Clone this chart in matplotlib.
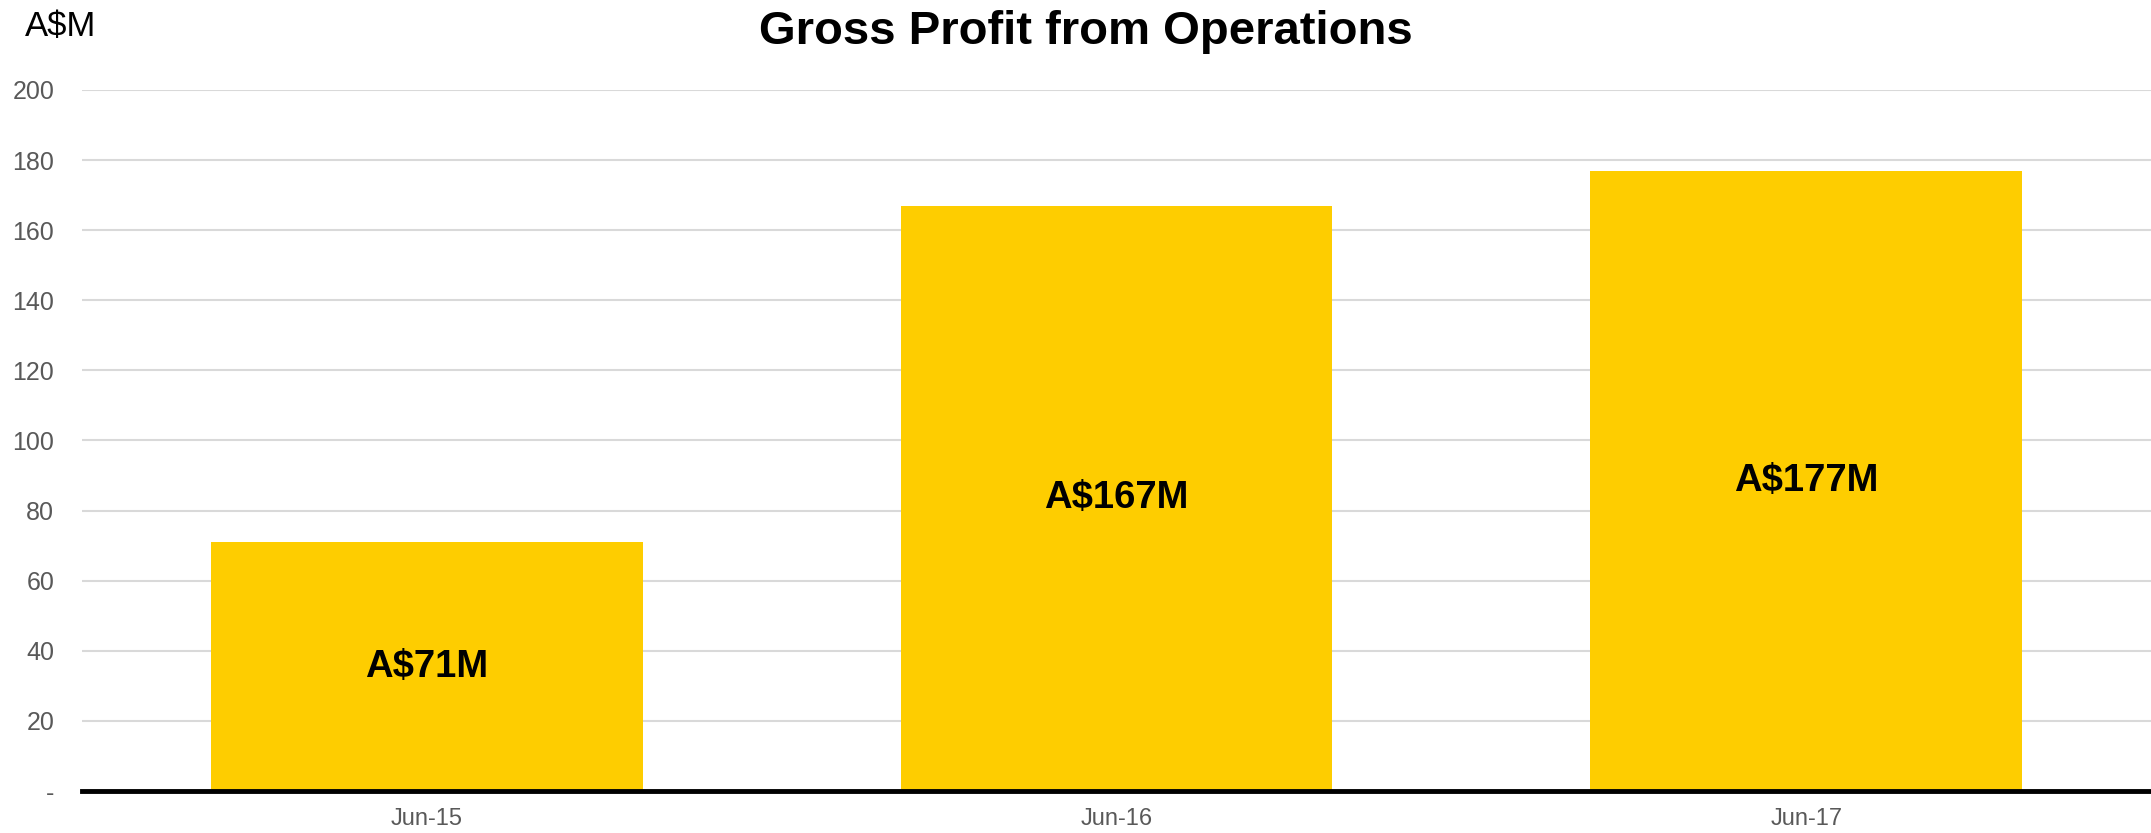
"""Gross profit from operations bar chart."""

import matplotlib
matplotlib.use("Agg")
import matplotlib.pyplot as plt

periods = ["Jun-15", "Jun-16", "Jun-17"]
gross_profit = [71, 167, 177]
bar_labels = ["A$71M", "A$167M", "A$177M"]
y_ticks = [0, 20, 40, 60, 80, 100, 120, 140, 160, 180, 200]
y_tick_labels = ["-"] + [str(v) for v in y_ticks[1:]]

plt.rcParams["font.family"] = ["Liberation Sans", "DejaVu Sans"]

fig = plt.figure(figsize=(21.51, 8.33), dpi=100)
ax = fig.add_axes([0.0381, 0.0504, 0.962, 0.8416])

x = list(range(len(periods)))
ax.bar(x, gross_profit, width=0.626, color="#fecd00", zorder=2)
for xi, val, lab in zip(x, gross_profit, bar_labels):
    ax.text(xi, val / 2, lab, ha="center", va="center",
            fontsize=27.5, fontweight="bold", color="black", zorder=3)

ax.set_xlim(-0.5, 2.5)
ax.set_ylim(0, 200)
ax.set_xticks(x)
ax.set_xticklabels(periods)
ax.set_yticks(y_ticks)
ax.set_yticklabels(y_tick_labels)
ax.tick_params(axis="both", length=0, labelcolor="#595959")
ax.tick_params(axis="x", pad=12, labelsize=17)
ax.tick_params(axis="y", pad=20, labelsize=18)

ax.grid(axis="y", color="#d9d9d9", linewidth=1.5, zorder=0)
ax.set_axisbelow(True)
for side in ["top", "right", "left"]:
    ax.spines[side].set_visible(False)
ax.spines["bottom"].set_linewidth(3.5)
ax.spines["bottom"].set_color("black")
ax.spines["bottom"].set_zorder(4)

fig.text(0.505, 0.962, "Gross Profit from Operations", ha="center", va="center",
         fontsize=34, fontweight="bold")
fig.text(0.0115, 0.968, "A$M", ha="left", va="center", fontsize=25)

fig.savefig("out.png", dpi=100)
plt.close(fig)
